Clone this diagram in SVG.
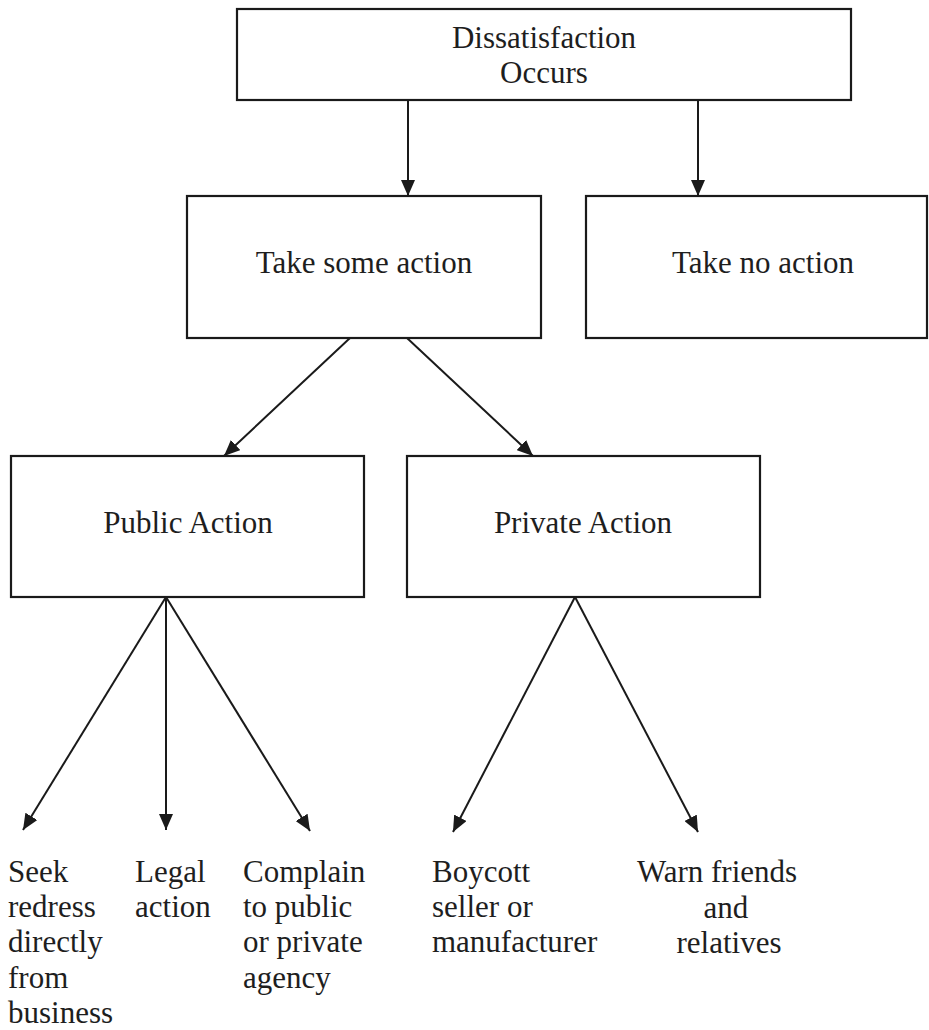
<svg xmlns="http://www.w3.org/2000/svg" width="929" height="1030" viewBox="0 0 929 1030">
<style>
  .box { fill: #ffffff; stroke: #1a1a1a; stroke-width: 2.2; }
  .lbl { font-family: "Liberation Serif", "Times New Roman", serif; font-size: 31px; fill: #1e1e1e; }
  .mid { text-anchor: middle; }
  .conn { stroke: #1a1a1a; stroke-width: 2; fill: none; marker-end: url(#arrow); }
</style>
<defs>
  <marker id="arrow" viewBox="0 0 16 14" refX="16" refY="7" markerWidth="16" markerHeight="14" markerUnits="userSpaceOnUse" orient="auto">
    <path d="M0,0 L16,7 L0,14 z" fill="#1a1a1a"/>
  </marker>
</defs>
<rect width="929" height="1030" fill="#ffffff"/>

<g id="connectors">
  <line class="conn" x1="408" y1="100" x2="408" y2="196"/>
  <line class="conn" x1="698" y1="100" x2="698" y2="196"/>
  <line class="conn" x1="350" y1="338" x2="224" y2="456"/>
  <line class="conn" x1="407" y1="338" x2="533" y2="456"/>
  <line class="conn" x1="166" y1="597" x2="23" y2="830"/>
  <line class="conn" x1="166" y1="597" x2="166" y2="830"/>
  <line class="conn" x1="166" y1="597" x2="310" y2="831"/>
  <line class="conn" x1="575" y1="597" x2="453" y2="832"/>
  <line class="conn" x1="575" y1="597" x2="698" y2="832"/>
</g>

<g id="dissatisfaction">
  <rect class="box" x="237" y="9" width="614" height="91"/>
  <text class="lbl mid" x="544" y="48">Dissatisfaction</text>
  <text class="lbl mid" x="544" y="83">Occurs</text>
</g>

<g id="take-some-action">
  <rect class="box" x="187" y="196" width="354" height="142"/>
  <text class="lbl mid" x="364" y="273">Take some action</text>
</g>

<g id="take-no-action">
  <rect class="box" x="586" y="196" width="341" height="142"/>
  <text class="lbl mid" x="763" y="273">Take no action</text>
</g>

<g id="public-action">
  <rect class="box" x="11" y="456" width="353" height="141"/>
  <text class="lbl mid" x="188" y="533">Public Action</text>
</g>

<g id="private-action">
  <rect class="box" x="407" y="456" width="353" height="141"/>
  <text class="lbl mid" x="583" y="533">Private Action</text>
</g>

<g id="seek-redress">
  <text class="lbl" x="8" y="882">Seek</text>
  <text class="lbl" x="8" y="917">redress</text>
  <text class="lbl" x="8" y="952">directly</text>
  <text class="lbl" x="8" y="988">from</text>
  <text class="lbl" x="8" y="1023">business</text>
</g>

<g id="legal-action">
  <text class="lbl" x="135" y="882">Legal</text>
  <text class="lbl" x="135" y="917">action</text>
</g>

<g id="complain">
  <text class="lbl" x="243" y="882">Complain</text>
  <text class="lbl" x="243" y="917">to public</text>
  <text class="lbl" x="243" y="952">or private</text>
  <text class="lbl" x="243" y="988">agency</text>
</g>

<g id="boycott">
  <text class="lbl" x="432" y="882">Boycott</text>
  <text class="lbl" x="432" y="917">seller or</text>
  <text class="lbl" x="432" y="952">manufacturer</text>
</g>

<g id="warn-friends">
  <text class="lbl mid" x="717" y="882">Warn friends</text>
  <text class="lbl mid" x="726" y="918">and</text>
  <text class="lbl mid" x="729" y="953">relatives</text>
</g>
</svg>
